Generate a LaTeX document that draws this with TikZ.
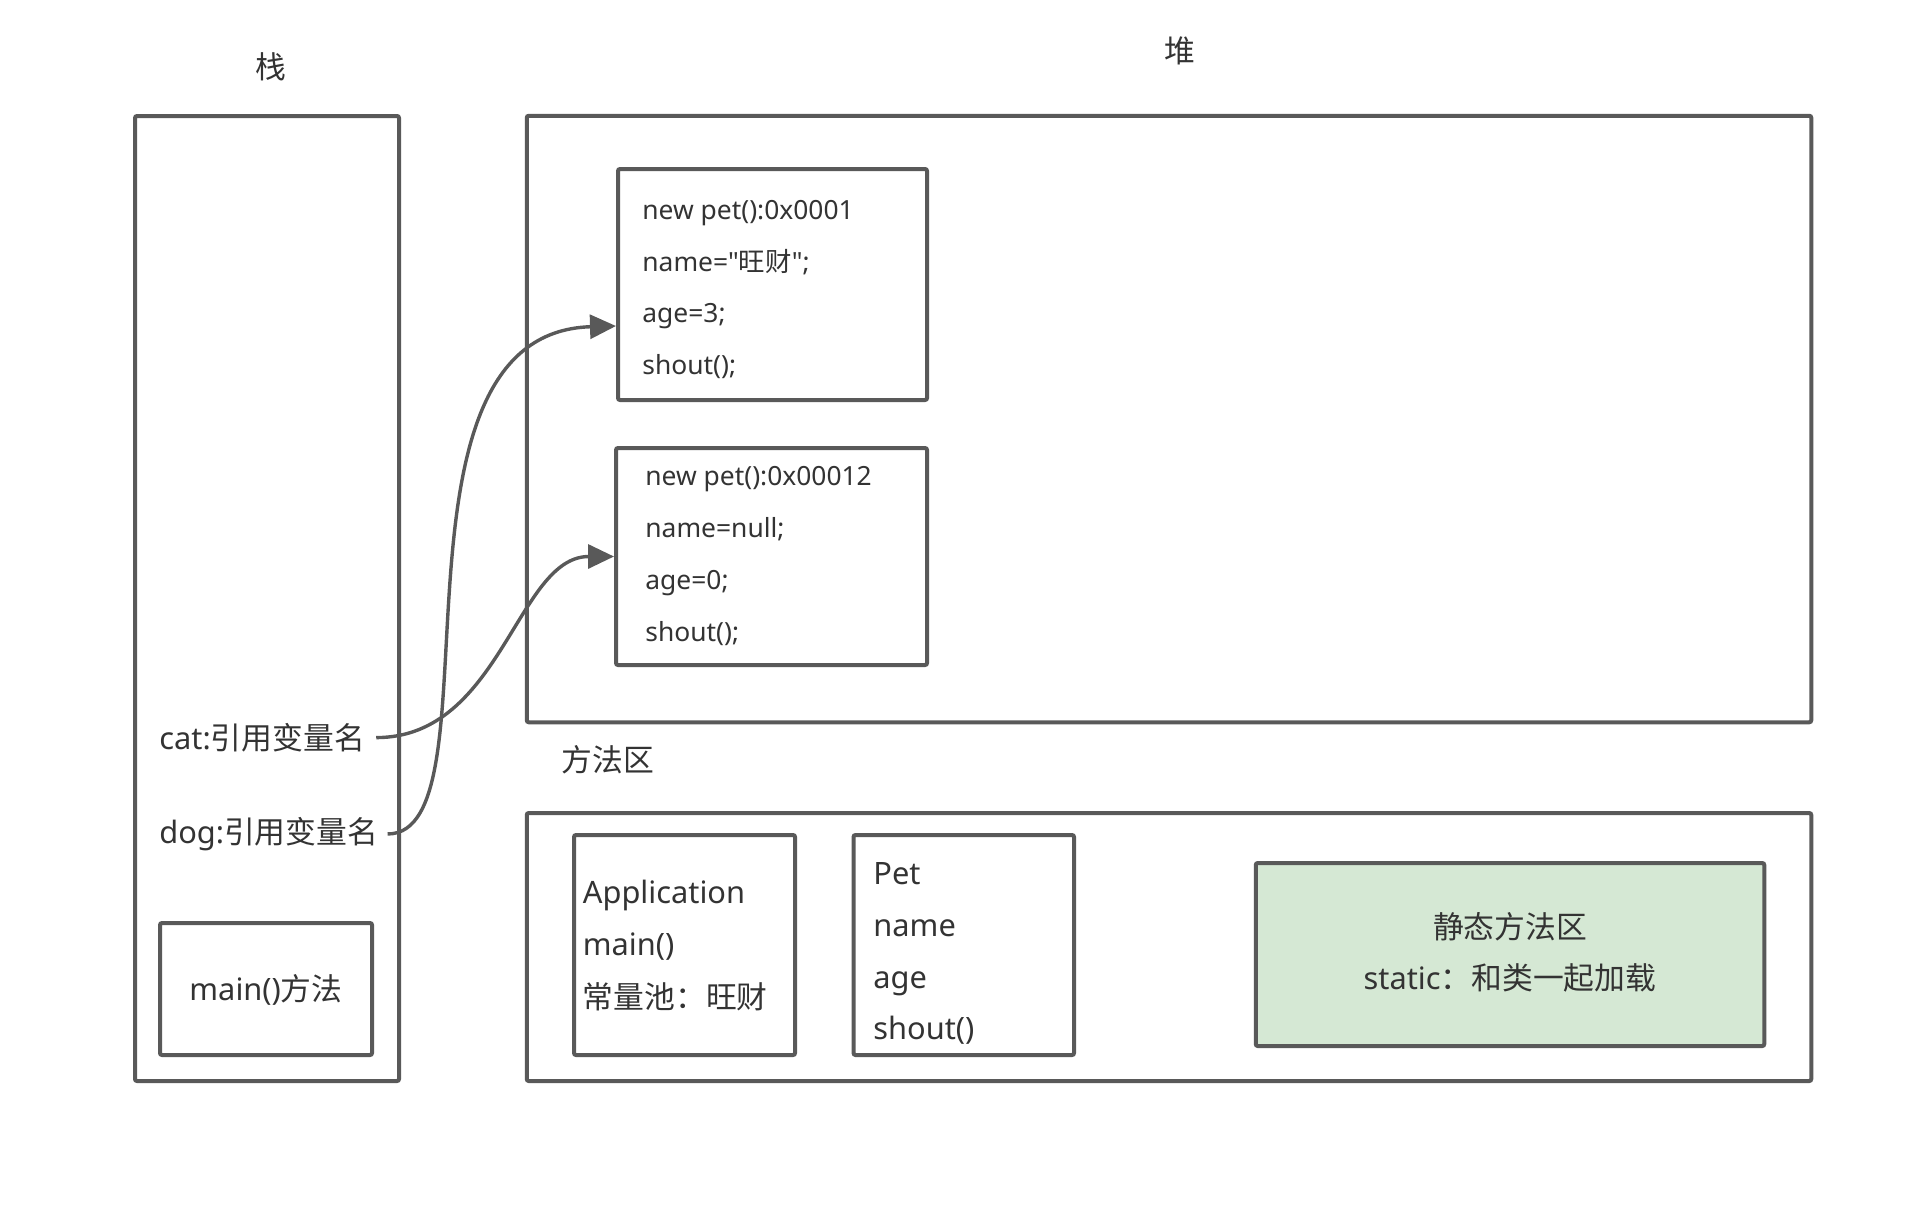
\documentclass[tikz,border=0pt]{standalone}
\usepackage{fontspec}
\setmainfont{Noto Sans}[Ligatures=TeXOff]
\newfontfamily\cjk{Noto Sans CJK SC}
\usetikzlibrary{arrows.meta}
\definecolor{lc}{HTML}{595959}
\definecolor{tc}{HTML}{333333}
\definecolor{gf}{HTML}{D5E8D4}
\begin{document}
\begin{tikzpicture}[x=0.5pt,y=-0.5pt,
  box/.style={draw=lc, line width=2pt, rounded corners=1pt, inner sep=0pt},
  txt/.style={text=tc, inner sep=0pt, font=\fontsize{15.4pt}{18pt}\selectfont},
  small/.style={text=tc, inner sep=0pt, font=\fontsize{13.2pt}{16pt}\selectfont},
  link/.style={draw=lc, line width=1.7pt, -{Triangle[length=13pt,width=12pt]}}]
\useasboundingbox (0,0) rectangle (1920,1210);

% headers
\node[txt] (stacktitle) at (271,67) {\cjk 栈};
\node[txt] (heaptitle) at (1180,51) {\cjk 堆};
\node[txt, anchor=west] (methodtitle) at (561,760) {\cjk 方法区};

% outer boxes
\node[box, minimum width=132pt, minimum height=482.5pt] (stack) at (267,598.5) {};
\node[box, minimum width=642.25pt, minimum height=303.25pt] (heap) at (1169,419) {};
\node[box, minimum width=642.25pt, minimum height=134pt] (method) at (1169,947) {};

% heap objects
\node[box, minimum width=154.5pt, minimum height=115.5pt] (obj1) at (772.5,284.5) {};
\node[small, anchor=mid west] (o1a) at (642,214) {new pet():0x0001};
\node[small, anchor=mid west] (o1b) at (642,266) {name="{\cjk 旺财}";};
\node[small, anchor=mid west] (o1c) at (642,317) {age=3;};
\node[small, anchor=mid west] (o1d) at (642,369) {shout();};

\node[box, minimum width=155.5pt, minimum height=108.5pt] (obj2) at (771.5,556.5) {};
\node[small, anchor=mid west] (o2a) at (645,480.5) {new pet():0x00012};
\node[small, anchor=mid west] (o2b) at (645,532.5) {name=null;};
\node[small, anchor=mid west] (o2c) at (645,584.5) {age=0;};
\node[small, anchor=mid west] (o2d) at (645,636.5) {shout();};

% stack content
\node[txt, anchor=mid west] (cat) at (159,744) {cat:{\cjk 引用变量名}};
\node[txt, anchor=mid west] (dog) at (159,838) {dog:{\cjk 引用变量名}};
\node[box, minimum width=106pt, minimum height=66pt] (mainbox) at (266,989) {};
\node[txt, anchor=mid] (maintxt) at (266,995) {main(){\cjk 方法}};

% method area content
\node[box, minimum width=110.5pt, minimum height=110pt] (app) at (684.5,945) {};
\node[txt, anchor=mid west] (appa) at (582.5,898) {Application};
\node[txt, anchor=mid west] (appb) at (582.5,950) {main()};
\node[txt, anchor=mid west] (appc) at (582.5,1003) {\cjk 常量池：旺财};

\node[box, minimum width=110.25pt, minimum height=110pt] (pet) at (963.75,945) {};
\node[txt, anchor=mid west] (peta) at (873,879.5) {Pet};
\node[txt, anchor=mid west] (petb) at (873,931) {name};
\node[txt, anchor=mid west] (petc) at (873,983) {age};
\node[txt, anchor=mid west] (petd) at (873,1034) {shout()};

\node[box, fill=gf, minimum width=254.25pt, minimum height=91.5pt] (static) at (1510,954.5) {};
\node[txt] (sta) at (1510,927) {\cjk 静态方法区};
\node[txt, anchor=mid] (stb) at (1510,984) {static{\cjk ：和类一起加载}};

% references
\draw[link] ([xshift=5.5pt]cat.east) .. controls +(125,0) and +(-97,0) .. (obj2.west);
\draw[link] ([xshift=4.5pt]dog.east) .. controls +(115,0) and +(-245,7) .. ([yshift=-20.75pt]obj1.west);
\end{tikzpicture}
\end{document}
